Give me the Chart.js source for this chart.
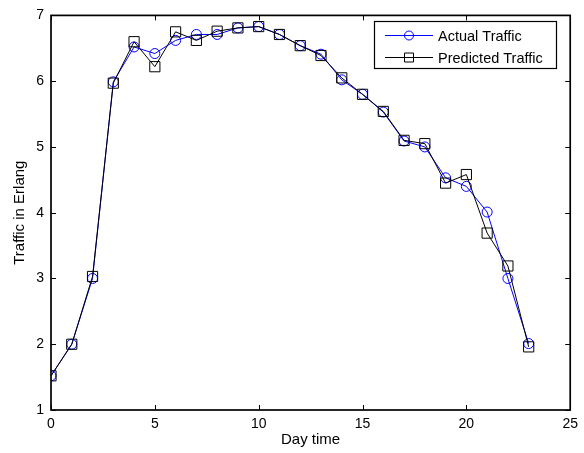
<!DOCTYPE html>
<html>
<head>
<meta charset="utf-8">
<script src="https://cdn.jsdelivr.net/npm/chart.js@4.4.1/dist/chart.umd.min.js"></script>
<style>
  html, body { margin: 0; padding: 0; background: #fff; }
  #wrap { width: 584px; height: 453px; position: relative; }
</style>
</head>
<body>
<div id="wrap"><canvas id="chart"></canvas></div>
<script>
// hours of the day
const hours = [0, 1, 2, 3, 4, 5, 6, 7, 8, 9, 10, 11, 12, 13, 14, 15, 16, 17, 18, 19, 20, 21, 22, 23];

// traffic in Erlang
const actualTraffic = [1.52, 2.0, 3.0, 5.99, 6.52, 6.42, 6.62, 6.71, 6.71, 6.81, 6.83, 6.71, 6.54, 6.41, 6.02, 5.80, 5.53, 5.09, 5.0, 4.53, 4.40, 4.01, 3.0, 2.01];
const predictedTraffic = [1.52, 2.0, 3.03, 5.97, 6.60, 6.22, 6.75, 6.62, 6.76, 6.81, 6.83, 6.71, 6.54, 6.39, 6.05, 5.80, 5.54, 5.10, 5.05, 4.45, 4.58, 3.69, 3.19, 1.96];

const xTicks = [0, 5, 10, 15, 20, 25];
const yTicks = [1, 2, 3, 4, 5, 6, 7];

const FONT = 'Liberation Sans, Arial, sans-serif';

const toPoints = ys => hours.map((h, i) => ({ x: h, y: ys[i] }));

// MATLAB-style box with inward tick marks on all four sides
const boxPlugin = {
    id: 'box',
    afterDraw(chart) {
        const { ctx, chartArea: a, scales } = chart;
        ctx.save();
        ctx.strokeStyle = '#000';
        ctx.lineWidth = 1.7;
        ctx.strokeRect(a.left, a.top, a.right - a.left, a.bottom - a.top);
        ctx.lineWidth = 1;
        ctx.beginPath();
        xTicks.forEach(v => {
            const px = Math.round(scales.x.getPixelForValue(v)) + 0.5;
            ctx.moveTo(px, a.bottom); ctx.lineTo(px, a.bottom - 5);
            ctx.moveTo(px, a.top); ctx.lineTo(px, a.top + 5);
        });
        yTicks.forEach(v => {
            const py = Math.round(scales.y.getPixelForValue(v)) + 0.5;
            ctx.moveTo(a.left, py); ctx.lineTo(a.left + 5, py);
            ctx.moveTo(a.right, py); ctx.lineTo(a.right - 5, py);
        });
        ctx.stroke();
        ctx.restore();
    }
};

// legend box inside the upper right corner
const legendPlugin = {
    id: 'boxLegend',
    afterDraw(chart) {
        const { ctx } = chart;
        const x0 = 374, y0 = 21, w = 182, h = 47;
        ctx.save();
        ctx.fillStyle = '#fff';
        ctx.fillRect(x0, y0, w, h);
        ctx.strokeStyle = '#000';
        ctx.lineWidth = 1.2;
        ctx.strokeRect(x0 + 0.5, y0 + 0.5, w, h);
        ctx.font = '14.5px ' + FONT;
        ctx.textBaseline = 'middle';
        chart.data.datasets.forEach((ds, i) => {
            const y = y0 + 14.5 + i * 22;
            ctx.strokeStyle = ds.borderColor;
            ctx.lineWidth = 1;
            ctx.beginPath();
            ctx.moveTo(385, y); ctx.lineTo(433, y);
            ctx.stroke();
            ctx.beginPath();
            if (ds.pointStyle === 'circle') {
                ctx.arc(409, y, 4.5, 0, Math.PI * 2);
            } else {
                ctx.rect(404.5, y - 4.5, 9, 9);
            }
            ctx.stroke();
            ctx.fillStyle = '#000';
            ctx.fillText(ds.label, 438, y + 1);
        });
        ctx.restore();
    }
};

new Chart(document.getElementById('chart'), {
    type: 'line',
    data: {
        datasets: [{
            label: 'Actual Traffic',
            data: toPoints(actualTraffic),
            order: 1,
            borderColor: '#0000ff', backgroundColor: 'rgba(0,0,0,0)',
            borderWidth: 1, pointStyle: 'circle', pointRadius: 5,
            pointBorderColor: '#0000ff', pointBorderWidth: 1, tension: 0
        }, {
            label: 'Predicted Traffic',
            data: toPoints(predictedTraffic),
            order: 0,
            borderColor: '#000', backgroundColor: 'rgba(0,0,0,0)',
            borderWidth: 1, pointStyle: 'rect', pointRadius: 7.2,
            pointBorderColor: '#000', pointBorderWidth: 1, tension: 0
        }]
    },
    options: {
        responsive: true, maintainAspectRatio: false, animation: false,
        layout: { padding: { left: 0, right: 13, top: 13, bottom: 0 } },
        plugins: { legend: { display: false }, tooltip: { enabled: false } },
        scales: {
            x: {
                type: 'linear', min: 0, max: 25,
                afterFit: s => { s.height = 43; },
                afterBuildTicks: s => { s.ticks = xTicks.map(v => ({ value: v })); },
                grid: { display: false, drawTicks: false }, border: { display: false },
                ticks: { padding: 6, color: '#000', font: { family: FONT, size: 14 } },
                title: { display: true, text: 'Day time', color: '#000', padding: { top: 0, bottom: 4 }, font: { family: FONT, size: 15 } }
            },
            y: {
                type: 'linear', min: 1, max: 7,
                afterFit: s => { s.width = 51; },
                afterBuildTicks: s => { s.ticks = yTicks.map(v => ({ value: v })); },
                grid: { display: false, drawTicks: false }, border: { display: false },
                ticks: { padding: 7, color: '#000', font: { family: FONT, size: 14 } },
                title: { display: true, text: 'Traffic in Erlang', color: '#000', padding: { top: 11, bottom: 0 }, font: { family: FONT, size: 15 } }
            }
        }
    },
    plugins: [boxPlugin, legendPlugin]
});
</script>
</body>
</html>
